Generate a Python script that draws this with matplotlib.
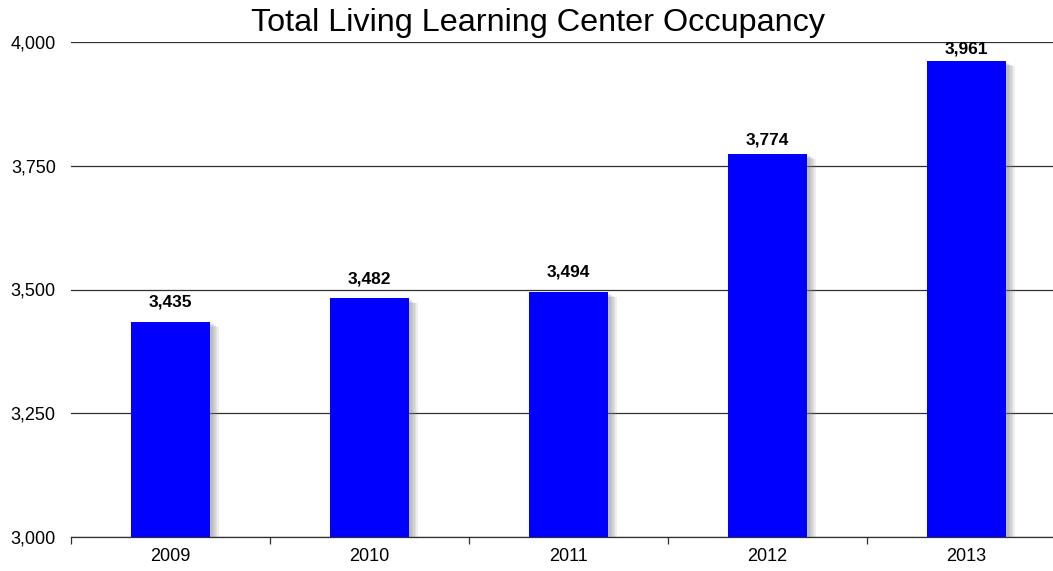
import numpy as np
import matplotlib.pyplot as plt
import matplotlib.patheffects as pe
from matplotlib.ticker import FuncFormatter, FixedLocator

years = ['2009', '2010', '2011', '2012', '2013']
occupancy = [3435, 3482, 3494, 3774, 3961]
y_ticks = [3000, 3250, 3500, 3750, 4000]

# gap (points) between each bar top and its value label
label_gap = [9, 8.5, 9.5, 4.5, 3.5]

plt.rcParams['font.family'] = ['Liberation Sans', 'DejaVu Sans']

fig = plt.figure(figsize=(10.53, 5.71), dpi=100)
ax = fig.add_axes([71 / 1053, 1 - 537 / 571, 995 / 1053, 495 / 571])

x = np.arange(len(years))

# soft drop shadow to the right of each bar
shadow = [pe.SimplePatchShadow(offset=(d, -d * 0.6), shadow_rgbFace='#808080', alpha=0.13)
          for d in (2, 3, 4, 5, 6)]
bars = ax.bar(x, occupancy, width=0.4, bottom=0, color='#0000ff', zorder=3)
for b in bars:
    b.set_path_effects(shadow + [pe.Normal()])

for xi, v, g in zip(x, occupancy, label_gap):
    ax.annotate(f'{v:,}', (xi, v), xytext=(0, g), textcoords='offset points',
                ha='center', va='bottom', fontsize=12.5, fontweight='bold',
                color='black', zorder=4)

ax.set_xlim(-0.5, len(years) - 0.5)
ax.set_ylim(3000, 4000)
ax.yaxis.set_major_locator(FixedLocator(y_ticks))
ax.yaxis.set_major_formatter(FuncFormatter(lambda v, p: f'{int(v):,}'))
ax.grid(axis='y', color='#303030', linewidth=0.9, zorder=1)

ax.set_xticks(x)
ax.set_xticklabels(years)
ax.xaxis.set_minor_locator(FixedLocator(np.arange(-0.5, len(years), 1.0)))
ax.tick_params(axis='x', which='major', length=0, labelsize=13, pad=8)
ax.tick_params(axis='x', which='minor', length=5, color='#303030', width=0.9)
ax.tick_params(axis='y', length=0, labelsize=13, pad=11)

for s in ('top', 'right', 'left'):
    ax.spines[s].set_visible(False)
ax.spines['bottom'].set_color('#303030')
ax.spines['bottom'].set_linewidth(0.9)

fig.text(538 / 1053, 1 - 31 / 571, 'Total Living Learning Center Occupancy',
         ha='center', va='baseline', fontsize=23.3)

fig.savefig('out.png', dpi=100)
